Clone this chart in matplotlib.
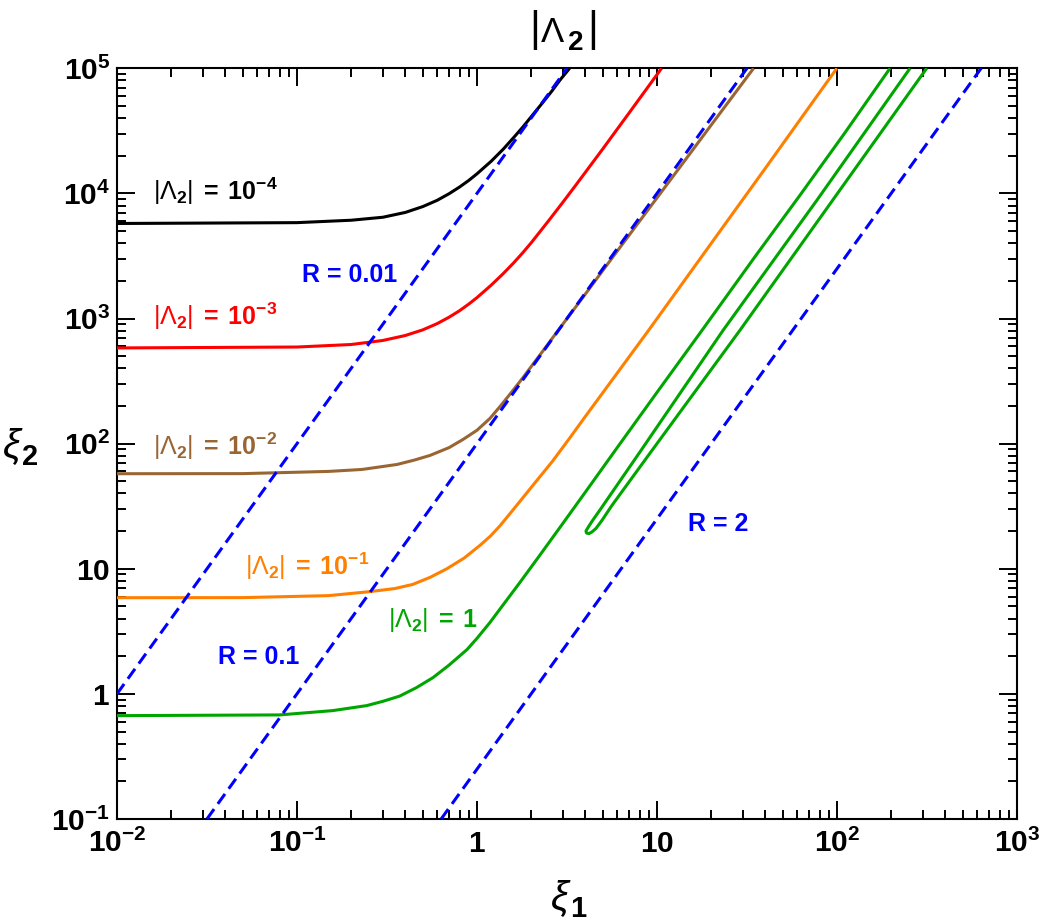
import numpy as np
import matplotlib
matplotlib.use('Agg')
import matplotlib.pyplot as plt
from matplotlib.ticker import FixedLocator, FixedFormatter, LogLocator, NullFormatter

plt.rcParams['font.family'] = ['Liberation Sans', 'DejaVu Sans']
plt.rcParams['mathtext.fontset'] = 'custom'
plt.rcParams['mathtext.rm'] = 'Liberation Sans'
plt.rcParams['mathtext.bf'] = 'Liberation Sans:bold'
plt.rcParams['mathtext.it'] = 'Liberation Sans:italic'

# ---------------- data ----------------
# |Lambda_2| = 1e-4 (black)
black_x = [0.01, 0.1, 0.2, 0.3, 0.4, 0.5, 0.6, 0.7, 0.8, 0.9, 1.0, 1.2, 1.4, 1.6, 1.8,
           2.0, 2.3, 2.6, 2.9, 3.27]
black_y = [5750, 5840, 6105, 6450, 7050, 7850, 8800, 9950, 11250, 12700, 14350, 18100,
           22600, 28000, 34000, 41000, 52500, 65500, 81000, 100000]
# |Lambda_2| = 1e-3 (red)
red_x = [0.01, 0.1, 0.2, 0.3, 0.4, 0.5, 0.6, 0.7, 0.8, 0.9, 1.0, 1.2, 1.4, 1.6, 1.8, 2.0,
         2.5, 3.0, 3.5, 4.0, 5.0, 6.0, 7.0, 8.0, 9.0, 10.6]
red_y = [582, 592, 620, 668, 732, 812, 910, 1025, 1155, 1305, 1470, 1850, 2290, 2790, 3370,
         4030, 6050, 8500, 11400, 14750, 22700, 32500, 44000, 57300, 72300, 100000]
# |Lambda_2| = 1e-2 (brown)
brown_x = [0.01, 0.05, 0.15, 0.23, 0.36, 0.45, 0.548, 0.7, 0.836, 1.0, 1.18, 1.35, 1.53, 1.65,
           1.8, 2.0, 2.3, 2.7, 3.3, 4.0, 5.69, 8.0, 13.4, 20, 34.4]
brown_y = [57.5, 57.6, 60.0, 62.2, 68.2, 74, 80.5, 93, 108, 128, 159, 200, 250, 287,
           337, 413, 540, 737, 1085, 1570, 3110, 6000, 16200, 35200, 100000]
# |Lambda_2| = 1e-1 (orange)
orange_x = [0.01, 0.05, 0.15, 0.25, 0.35, 0.44, 0.55, 0.68, 0.85, 1.04, 1.19, 1.34, 1.5, 1.73,
            2.1, 2.62, 3.2, 4.0, 6.0, 9.15, 14, 22.4, 40, 99.8]
orange_y = [5.87, 5.88, 6.1, 6.55, 6.95, 7.5, 8.55, 10.0, 12.2, 15.4, 18.3, 22, 26.8, 34.5,
            48.7, 72, 106, 165, 365, 835, 1955, 5000, 15900, 100000]
# |Lambda_2| = 1 (green), main branch
green_x = [0.01, 0.08, 0.158, 0.244, 0.3, 0.372, 0.46, 0.57, 0.7, 0.88, 1.0, 1.18, 1.4, 1.73,
           2.2, 2.89, 4.0, 6.19, 10, 17.8, 35, 62.3, 110, 197]
green_y = [0.67, 0.679, 0.735, 0.806, 0.872, 0.96, 1.12, 1.35, 1.70, 2.26, 2.78, 3.72, 5.17,
           7.76, 12.45, 21.4, 41, 98.6, 257, 806, 3116, 9680, 30170, 100000]
# |Lambda_2| = 1 (green), closed tongue
tongue_x = [254.5, 77.4, 23.3, 8.15, 4.89, 4.35, 4.14, 4.03, 4.06, 4.19, 4.35, 4.58, 4.94,
            5.62, 9.38, 28.9, 315]
tongue_y = [100000, 8840, 806, 88.3, 30.4, 23.9, 21.4, 20.0, 19.3, 19.1, 19.7, 21.0, 24.3,
            32.1, 88.3, 806, 100000]

# R = const dashed lines (end points)
R_names = ['0.01', '0.1', '2']
R_x = [[0.01, 3.16], [0.0316, 31.6], [0.632, 632]]
R_y = [[1, 1e5], [0.1, 1e5], [0.1, 1e5]]

# contour level labels
level_labels = [r'10^{-4}', r'10^{-3}', r'10^{-2}', r'10^{-1}', r'1']

x_ticks = [1e-2, 1e-1, 1, 10, 1e2, 1e3]
x_ticklabels = [r'$\mathbf{10^{-2}}$', r'$\mathbf{10^{-1}}$', r'$\mathbf{1}$',
                r'$\mathbf{10}$', r'$\mathbf{10^{2}}$', r'$\mathbf{10^{3}}$']
y_ticks = [1e-1, 1, 10, 1e2, 1e3, 1e4, 1e5]
y_ticklabels = [r'$\mathbf{10^{-1}}$', r'$\mathbf{1}$', r'$\mathbf{10}$', r'$\mathbf{10^{2}}$',
                r'$\mathbf{10^{3}}$', r'$\mathbf{10^{4}}$', r'$\mathbf{10^{5}}$']

C_BLACK = '#000000'
C_RED = '#ff0000'
C_BROWN = '#996633'
C_ORANGE = '#ff8000'
C_GREEN = '#00a600'
C_BLUE = '#0000ff'

# ---------------- figure ----------------
W, H = 1042, 921
fig = plt.figure(figsize=(W / 100, H / 100), dpi=100)
ax = fig.add_axes([117 / W, 1 - 819 / H, 900 / W, (819 - 68.3) / H])
ax.set_xscale('log')
ax.set_yscale('log')
ax.set_xlim(1e-2, 1e3)
ax.set_ylim(1e-1, 1e5)

lw = 2.2
for xs, ys, c in [(black_x, black_y, C_BLACK), (red_x, red_y, C_RED),
                  (brown_x, brown_y, C_BROWN), (orange_x, orange_y, C_ORANGE),
                  (green_x, green_y, C_GREEN), (tongue_x, tongue_y, C_GREEN)]:
    ax.plot(xs, ys, color=c, lw=lw, solid_joinstyle='round', solid_capstyle='butt', zorder=3)

for xs, ys in zip(R_x, R_y):
    ax.plot(xs, ys, color=C_BLUE, lw=lw, dashes=(4.0, 2.1), zorder=4)

# ticks
ax.xaxis.set_major_locator(FixedLocator(x_ticks))
ax.xaxis.set_major_formatter(FixedFormatter(x_ticklabels))
ax.yaxis.set_major_locator(FixedLocator(y_ticks))
ax.yaxis.set_major_formatter(FixedFormatter(y_ticklabels))
ax.xaxis.set_minor_locator(LogLocator(base=10, subs=np.arange(2, 10)))
ax.yaxis.set_minor_locator(LogLocator(base=10, subs=np.arange(2, 10)))
ax.xaxis.set_minor_formatter(NullFormatter())
ax.yaxis.set_minor_formatter(NullFormatter())
ax.tick_params(which='both', direction='in', top=True, right=True, width=1.4, colors='black')
ax.tick_params(which='major', length=13)
ax.tick_params(which='minor', length=6.5)
ax.tick_params(axis='x', which='major', labelsize=21.5, pad=24)
ax.tick_params(axis='y', which='major', labelsize=21.5, pad=5)
for t in ax.xaxis.get_major_ticks():
    t.label1.set_verticalalignment('baseline')
for s in ax.spines.values():
    s.set_linewidth(1.5)

# labels inside the plot
fs = 18
def lam_label(x, y, lev, color):
    ax.text(x, y, r'$|\Lambda_\mathbf{2}|\;\mathbf{=}\;\mathbf{' + lev + '}$', color=color,
            fontsize=fs, ha='left', va='baseline')

lam_label(0.01585, 8830, level_labels[0], C_BLACK)
lam_label(0.01585, 884, level_labels[1], C_RED)
lam_label(0.01585, 80.6, level_labels[2], C_BROWN)
lam_label(0.0514, 8.84, level_labels[3], C_ORANGE)
lam_label(0.3206, 3.41, level_labels[4], C_GREEN)
ax.text(0.1067, 1950, 'R = ' + R_names[0], color=C_BLUE, fontsize=fs, fontweight='bold', ha='left', va='baseline')
ax.text(0.0364, 1.747, 'R = ' + R_names[1], color=C_BLUE, fontsize=fs, fontweight='bold', ha='left', va='baseline')
ax.text(14.86, 20.2, 'R = ' + R_names[2], color=C_BLUE, fontsize=fs, fontweight='bold', ha='left', va='baseline')

# title |Lambda_2| composed of pieces
def ftext(px, py, s, **kw):
    fig.text(px / W, 1 - py / H, s, **kw)

ftext(535, 41, '|', fontsize=30, ha='center', va='baseline')
ftext(541, 41.7, '\u039b', fontsize=25, ha='left', va='baseline')
ftext(568, 50, '2', fontsize=20, fontweight='bold', ha='left', va='baseline')
ftext(593, 41, '|', fontsize=30, ha='center', va='baseline')

# axis labels xi_2 and xi_1
ftext(3, 458, '\u03be', fontsize=29, style='italic', ha='left', va='baseline')
ftext(22, 465, '2', fontsize=21, fontweight='bold', ha='left', va='baseline')
ftext(551, 910, '\u03be', fontsize=29, style='italic', ha='left', va='baseline')
ftext(570, 916.5, '1', fontsize=21, fontweight='bold', ha='left', va='baseline')

fig.savefig('out.png', dpi=100)
